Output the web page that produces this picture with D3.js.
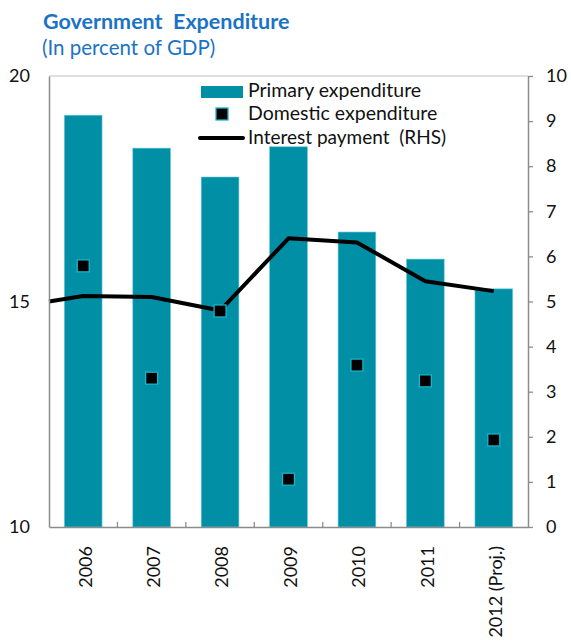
<!DOCTYPE html>
<html>
<head>
<meta charset="utf-8">
<script src="https://cdn.jsdelivr.net/npm/d3@7"></script>
<style>
  html, body { margin: 0; padding: 0; background: #fff; }
  svg { display: block; }
  text { font-family: Lato, "Open Sans", sans-serif; fill: #111; white-space: pre; }
</style>
</head>
<body>
<svg id="chart" width="571" height="642"></svg>
<script>
// Categories and series (percent of GDP)
const years = ["2006", "2007", "2008", "2009", "2010", "2011", "2012 (Proj.)"];
const primaryExpenditure = [19.13, 18.40, 17.76, 18.43, 16.54, 15.94, 15.28];
const domesticExpenditure = [15.79, 13.30, 14.79, 11.06, 13.59, 13.24, 11.93];
const interestPayment = [5.12, 5.10, 4.80, 6.40, 6.31, 5.45, 5.23];
// interest line enters from the left border of the plot at this value
const interestLeftEdge = 5.0;

const leftTicks = [10, 15, 20];
const rightTicks = [0, 1, 2, 3, 4, 5, 6, 7, 8, 9, 10];

const svg = d3.select("#chart");
const plot = { left: 49, right: 528, top: 76, bottom: 527 };

const x = d3.scaleBand().domain(years)
  .range([plot.left, plot.right]).paddingInner(0.45).paddingOuter(0.225);
const yL = d3.scaleLinear().domain([10, 20]).range([plot.bottom, plot.top]);
const yR = d3.scaleLinear().domain([0, 10]).range([plot.bottom, plot.top]);
const cx = d => x(d) + x.bandwidth() / 2;

const teal = "#008fa5";
const axisGrey = "#8c8c8c";

// Title
svg.append("text").attr("x", 43).attr("y", 29)
  .style("font-size", "21.5px").style("font-weight", "bold").style("fill", "#1a73c4")
  .text("Government  Expenditure");
svg.append("text").attr("x", 42).attr("y", 55)
  .style("font-size", "20.5px").style("fill", "#1a73c4")
  .text("(In percent of GDP)");

// Top border of plot area
svg.append("line").attr("x1", plot.left).attr("x2", plot.right)
  .attr("y1", plot.top).attr("y2", plot.top)
  .attr("stroke", "#d4d4d4").attr("stroke-width", 1.3);

// Bars
svg.append("g").selectAll("rect").data(years).join("rect")
  .attr("x", d => x(d))
  .attr("width", x.bandwidth())
  .attr("y", (d, i) => yL(primaryExpenditure[i]))
  .attr("height", (d, i) => yL(10) - yL(primaryExpenditure[i]))
  .attr("fill", teal)
  .attr("stroke", "#5cc6d8").attr("stroke-width", 0.6);

// Interest payment line (RHS)
const linePts = [[plot.left, yR(interestLeftEdge)]]
  .concat(years.map((d, i) => [cx(d), yR(interestPayment[i])]));
svg.append("path").datum(linePts)
  .attr("d", d3.line())
  .attr("fill", "none").attr("stroke", "#000").attr("stroke-width", 4)
  .attr("stroke-linejoin", "round");

// Domestic expenditure markers
const mk = 12;
svg.append("g").selectAll("rect").data(years).join("rect")
  .attr("x", d => cx(d) - mk / 2)
  .attr("y", (d, i) => yL(domesticExpenditure[i]) - mk / 2)
  .attr("width", mk).attr("height", mk)
  .attr("fill", "#000").attr("stroke", "#1cb4cc").attr("stroke-width", 1.3);

// Left axis
const gL = svg.append("g").attr("transform", `translate(${plot.left},0)`)
  .call(d3.axisLeft(yL).tickValues(leftTicks).tickSize(0).tickPadding(19));
gL.select(".domain").attr("stroke", axisGrey).attr("stroke-width", 1.5);
gL.selectAll("text").style("font-size", "18px").style("font-family", "Lato, sans-serif").attr("fill", "#111");

// Right axis
const gR = svg.append("g").attr("transform", `translate(${plot.right},0)`)
  .call(d3.axisRight(yR).tickValues(rightTicks).tickSize(5).tickSizeOuter(0).tickPadding(13));
gR.select(".domain").attr("stroke", axisGrey).attr("stroke-width", 1.5);
gR.selectAll(".tick line").attr("stroke", axisGrey).attr("stroke-width", 1.3);
gR.selectAll("text").style("font-size", "18px").style("font-family", "Lato, sans-serif").attr("fill", "#111");

// Bottom axis
const gB = svg.append("g").attr("transform", `translate(0,${plot.bottom})`)
  .call(d3.axisBottom(x).tickSize(0).tickSizeOuter(0));
gB.select(".domain").attr("stroke", axisGrey).attr("stroke-width", 1.5);
gB.selectAll("text")
  .style("font-size", "18px").style("font-family", "Lato, sans-serif").attr("fill", "#111")
  .attr("text-anchor", "end")
  .attr("transform", "rotate(-90)")
  .attr("x", -19).attr("y", 2).attr("dy", "0.35em");
// category separators pointing into the plot
gB.append("g").selectAll("line").data(years.slice(0, -1)).join("line")
  .attr("x1", d => cx(d) + x.step() / 2).attr("x2", d => cx(d) + x.step() / 2)
  .attr("y1", 0).attr("y2", -5)
  .attr("stroke", axisGrey).attr("stroke-width", 1.3);

// Legend
const lg = svg.append("g");
const tx = 248;
lg.append("rect").attr("x", 201).attr("y", 86).attr("width", 42).attr("height", 12).attr("fill", teal);
lg.append("text").attr("x", tx).attr("y", 97).style("font-size", "19.5px").text("Primary expenditure");
lg.append("rect").attr("x", 222 - mk / 2).attr("y", 114 - mk / 2).attr("width", mk).attr("height", mk)
  .attr("fill", "#000").attr("stroke", "#1cb4cc").attr("stroke-width", 1.3);
lg.append("text").attr("x", tx).attr("y", 120).style("font-size", "19.5px").text("Domestic expenditure");
lg.append("line").attr("x1", 200).attr("x2", 243).attr("y1", 138).attr("y2", 138)
  .attr("stroke", "#000").attr("stroke-width", 4).attr("stroke-linecap", "round");
lg.append("text").attr("x", tx).attr("y", 144).style("font-size", "19px").text("Interest payment  (RHS)");
</script>
</body>
</html>
